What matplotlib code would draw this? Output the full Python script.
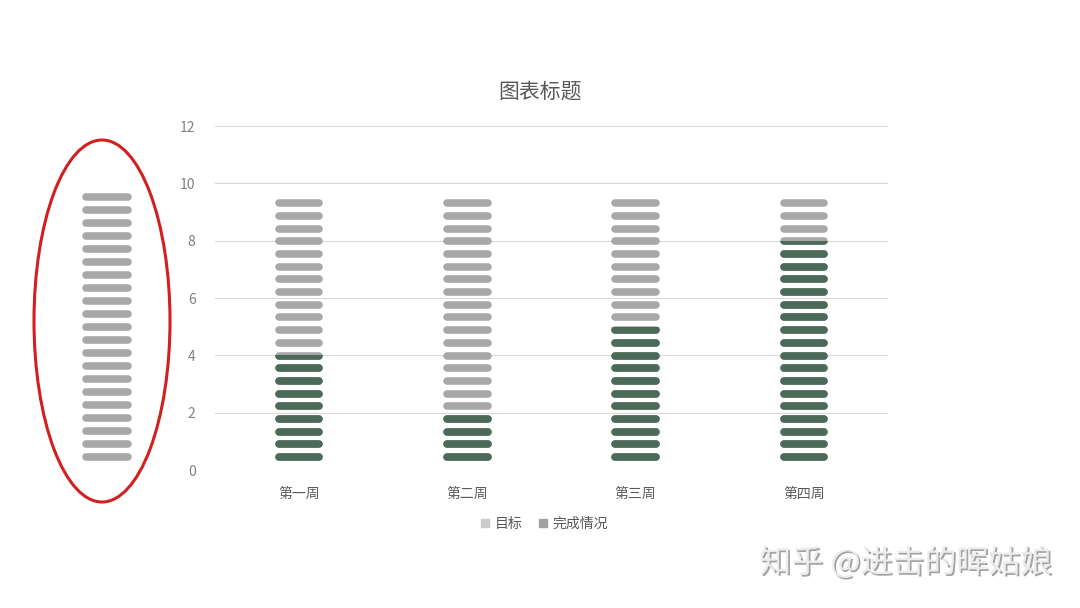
import matplotlib
matplotlib.use("Agg")
import matplotlib.pyplot as plt
import matplotlib.patheffects as pe
from matplotlib.patches import Ellipse, Rectangle
from matplotlib.lines import Line2D
import numpy as np

plt.rcParams['font.family'] = ['Noto Sans CJK SC', 'DejaVu Sans']

# ---- data ----
categories = ["第一周", "第二周", "第三周", "第四周"]
target = [9.5, 9.5, 9.5, 9.5]
done = [4, 2, 5, 8]
series_names = ["目标", "完成情况"]
yticks = [0, 2, 4, 6, 8, 10, 12]
title = "图表标题"
watermark = "知乎 @进击的晖姑娘"

# ---- style ----
GRAY = "#a8a8a8"
GREEN = "#4b6a57"
GRID = "#d9d9d9"
TXT = "#595959"
TICK = "#808080"
W, H, DPI = 1080, 608, 100

fig = plt.figure(figsize=(W / DPI, H / DPI), dpi=DPI)

# main axes
ax = fig.add_axes([215 / W, 1 - 470 / H, (888 - 215) / W, (470 - 126) / H])
ax.set_xlim(-0.5, len(categories) - 0.5)
ax.set_ylim(0, 12)
for s in ax.spines.values():
    s.set_visible(False)
ax.set_yticks(yticks)
ax.set_yticklabels([str(v) for v in yticks], color=TICK, fontsize=10)
ax.tick_params(axis='y', length=0, pad=14)
ax.set_xticks(range(len(categories)))
ax.set_xticklabels(categories, color=TXT, fontsize=10)
ax.tick_params(axis='x', length=0, pad=12)
ax.yaxis.grid(True, color=GRID, linewidth=0.8)
ax.set_axisbelow(True)

# stripe pattern (decorative fill)
px_per_x = (888 - 215) / len(categories)
bar_w = 48 / px_per_x
lw_px = 7.6
cap = (lw_px / 2) / px_per_x
lw_pt = lw_px * 72 / DPI
spacing = 0.443
offset = 0.45
half_th = (lw_px / 2) / ((470 - 126) / 12)

for i, (t, d) in enumerate(zip(target, done)):
    ys = []
    y = offset
    while y + half_th <= t + 0.05:
        ys.append(y)
        y += spacing
    ys = np.array(ys)
    x0, x1 = i - bar_w / 2 + cap, i + bar_w / 2 - cap
    lc = ax.hlines(ys, x0, x1, colors=GRAY, linewidth=lw_pt, zorder=2)
    lc.set_capstyle('round')
    g = ax.hlines(ys[ys - half_th < d], x0, x1, colors=GREEN, linewidth=lw_pt, zorder=3)
    g.set_capstyle('round')
    clip = Rectangle((i - 0.3, -1), 0.6, d + 1, transform=ax.transData)
    g.set_clip_path(clip)

# title
fig.text(540 / W, 1 - 92 / H, title, ha='center', va='center', fontsize=15, color=TXT)

# legend
handles = [Line2D([], [], marker='s', color='#cbcbcb', linestyle='None', markersize=6),
           Line2D([], [], marker='s', color='#a3a3a3', linestyle='None', markersize=6)]
fig.legend(handles, series_names, loc='center', bbox_to_anchor=(543 / W, 1 - 524 / H),
           ncol=2, frameon=False, fontsize=10, labelcolor=TXT, handletextpad=0.2,
           columnspacing=1.0, handlelength=1.0)

# overlay for decoration (pixel coords)
ov = fig.add_axes([0, 0, 1, 1], zorder=-1)
ov.set_xlim(0, W)
ov.set_ylim(H, 0)
ov.axis('off')
ov.patch.set_alpha(0)
ell = Ellipse((102, 321), 136, 362, fill=False, edgecolor='#d21f1f', linewidth=2.2)
ov.add_patch(ell)
ys_dec = np.linspace(197, 457, 21)
d = ov.hlines(ys_dec, 82 + lw_px / 2, 132 - lw_px / 2, colors=GRAY, linewidth=lw_pt)
d.set_capstyle('round')

# watermark
fig.text(906 / W, 1 - 563 / H, watermark, ha='center', va='center', fontsize=23,
         color='#ececec',
         path_effects=[pe.withSimplePatchShadow(offset=(1.2, -1.2), shadow_rgbFace='#8a8a8a', alpha=0.8)])

fig.savefig("out.png", dpi=DPI)
